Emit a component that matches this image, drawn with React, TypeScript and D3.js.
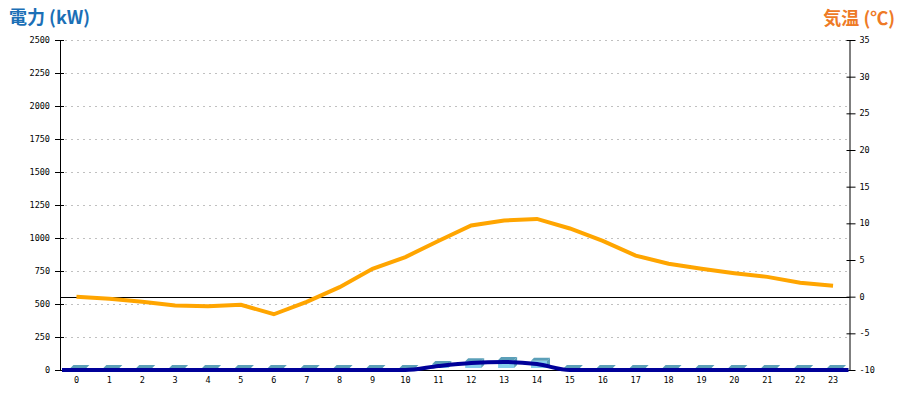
import * as d3 from 'd3';

const hours = d3.range(24).map(String);
const powerTicks = [0, 250, 500, 750, 1000, 1250, 1500, 1750, 2000, 2250, 2500];
const tempTicks = [-10, -5, 0, 5, 10, 15, 20, 25, 30, 35];

// bars (kW)
const barValues = [0, 0, 0, 0, 0, 0, 0, 0, 0, 0, 0, 30, 52, 60, 54, 0, 0, 0, 0, 0, 0, 0, 0, 0];
// navy line (kW)
const lineValues = [0, 0, 0, 0, 0, 0, 0, 0, 0, 0, 0, 30, 53, 61, 45, 0, 0, 0, 0, 0, 0, 0, 0, 0];
// temperature (°C)
const temps = [0.0, -0.3, -0.7, -1.2, -1.3, -1.1, -2.4, -0.7, 1.3, 3.8, 5.4, 7.6, 9.7, 10.4, 10.6, 9.3, 7.6, 5.6, 4.5, 3.8, 3.2, 2.7, 1.9, 1.5];

const W = 900;
const H = 400;
const left = 60;
const right = 849.5;
const top = 40;
const bottom = 370;
const tickFont = '"DejaVu Sans Mono", monospace';

export default function App() {
  const x = d3.scaleBand().domain(hours).range([left, right]);
  const cx = (h: string) => (x(h) as number) + x.bandwidth() / 2;
  const yP = d3.scaleLinear().domain([0, 2500]).range([bottom, top]);
  const yT = d3.scaleLinear().domain([-10, 35]).range([bottom, top]);

  const tempLine = d3
    .line<number>()
    .x((_, i) => cx(hours[i]))
    .y(d => yT(d))(temps);

  const powerPts: [number, number][] = [
    [left + 2, yP(lineValues[0])],
    ...lineValues.map((v, i) => [cx(hours[i]), yP(v)] as [number, number]),
    [right - 1, yP(lineValues[lineValues.length - 1])],
  ];
  const powerLine = d3.line().curve(d3.curveMonotoneX)(powerPts);

  const base = yP(0) - 2;
  const depth = 3;
  const barW = 16;

  return (
    <svg width={W} height={H} style={{ position: 'absolute', left: 0, top: 0, background: '#fff' }}>
      <text x={9} y={24} fontFamily='"Noto Sans CJK JP", sans-serif' fontWeight="bold" fontSize={18} fill="#1b6fb6">
        電力 (kW)
      </text>
      <text x={895} y={25} textAnchor="end" fontFamily='"Noto Sans CJK JP", sans-serif' fontWeight="bold" fontSize={18} fill="#ee7a26">
        気温 (℃)
      </text>

      {/* grid */}
      {powerTicks.slice(1).map(t => (
        <line key={'g' + t} x1={left + 5} x2={right} y1={yP(t) + 0.5} y2={yP(t) + 0.5} stroke="#c0c0c0" strokeDasharray="2,4" />
      ))}

      {/* left axis */}
      <line x1={left + 0.5} x2={left + 0.5} y1={top} y2={bottom + 1} stroke="#000" />
      {powerTicks.map(t => (
        <g key={'l' + t}>
          <line x1={left - 5} x2={left + 4} y1={yP(t) + 0.5} y2={yP(t) + 0.5} stroke="#000" />
          <text x={left - 10} y={yP(t) + 3} textAnchor="end" fontFamily={tickFont} fontSize={8.5} fill="#000">
            {t}
          </text>
        </g>
      ))}

      {/* right axis */}
      <line x1={right + 0.5} x2={right + 0.5} y1={top} y2={bottom + 1} stroke="#000" />
      {tempTicks.map(t => (
        <g key={'r' + t}>
          <line x1={right - 3} x2={right + 6} y1={yT(t) + 0.5} y2={yT(t) + 0.5} stroke="#000" />
          <text x={right + 10} y={yT(t) + 3} fontFamily={tickFont} fontSize={8.5} fill="#000">
            {t}
          </text>
        </g>
      ))}

      {/* x labels */}
      {hours.map(h => (
        <text key={'x' + h} x={cx(h)} y={383} textAnchor="middle" fontFamily={tickFont} fontSize={8.5} fill="#000">
          {h}
        </text>
      ))}

      {/* zero temperature line */}
      <line x1={left} x2={right} y1={Math.round(yT(0)) + 0.5} y2={Math.round(yT(0)) + 0.5} stroke="#000" />
      <line x1={left} x2={right} y1={bottom + 0.5} y2={bottom + 0.5} stroke="#000" />

      {/* 3D bars */}
      {barValues.map((v, i) => {
        const x0 = cx(hours[i]) - 6;
        const h = yP(0) - yP(v);
        const yt = base - h;
        return (
          <g key={'b' + i}>
            {h > 0 && <rect x={x0} y={yt} width={barW} height={h} fill="#87ceeb" />}
            {h > 0 && (
              <polygon
                points={`${x0 + barW},${base} ${x0 + barW},${yt} ${x0 + barW + depth},${yt - depth} ${x0 + barW + depth},${base - depth}`}
                fill="#5b9fb8"
              />
            )}
            <polygon
              points={`${x0},${yt} ${x0 + barW},${yt} ${x0 + barW + depth},${yt - depth} ${x0 + depth},${yt - depth}`}
              fill="#5b9fb8"
            />
          </g>
        );
      })}

      <path d={powerLine ?? ''} fill="none" stroke="#000099" strokeWidth={4} />
      <path d={tempLine ?? ''} fill="none" stroke="#ffa500" strokeWidth={4} />
    </svg>
  );
}
